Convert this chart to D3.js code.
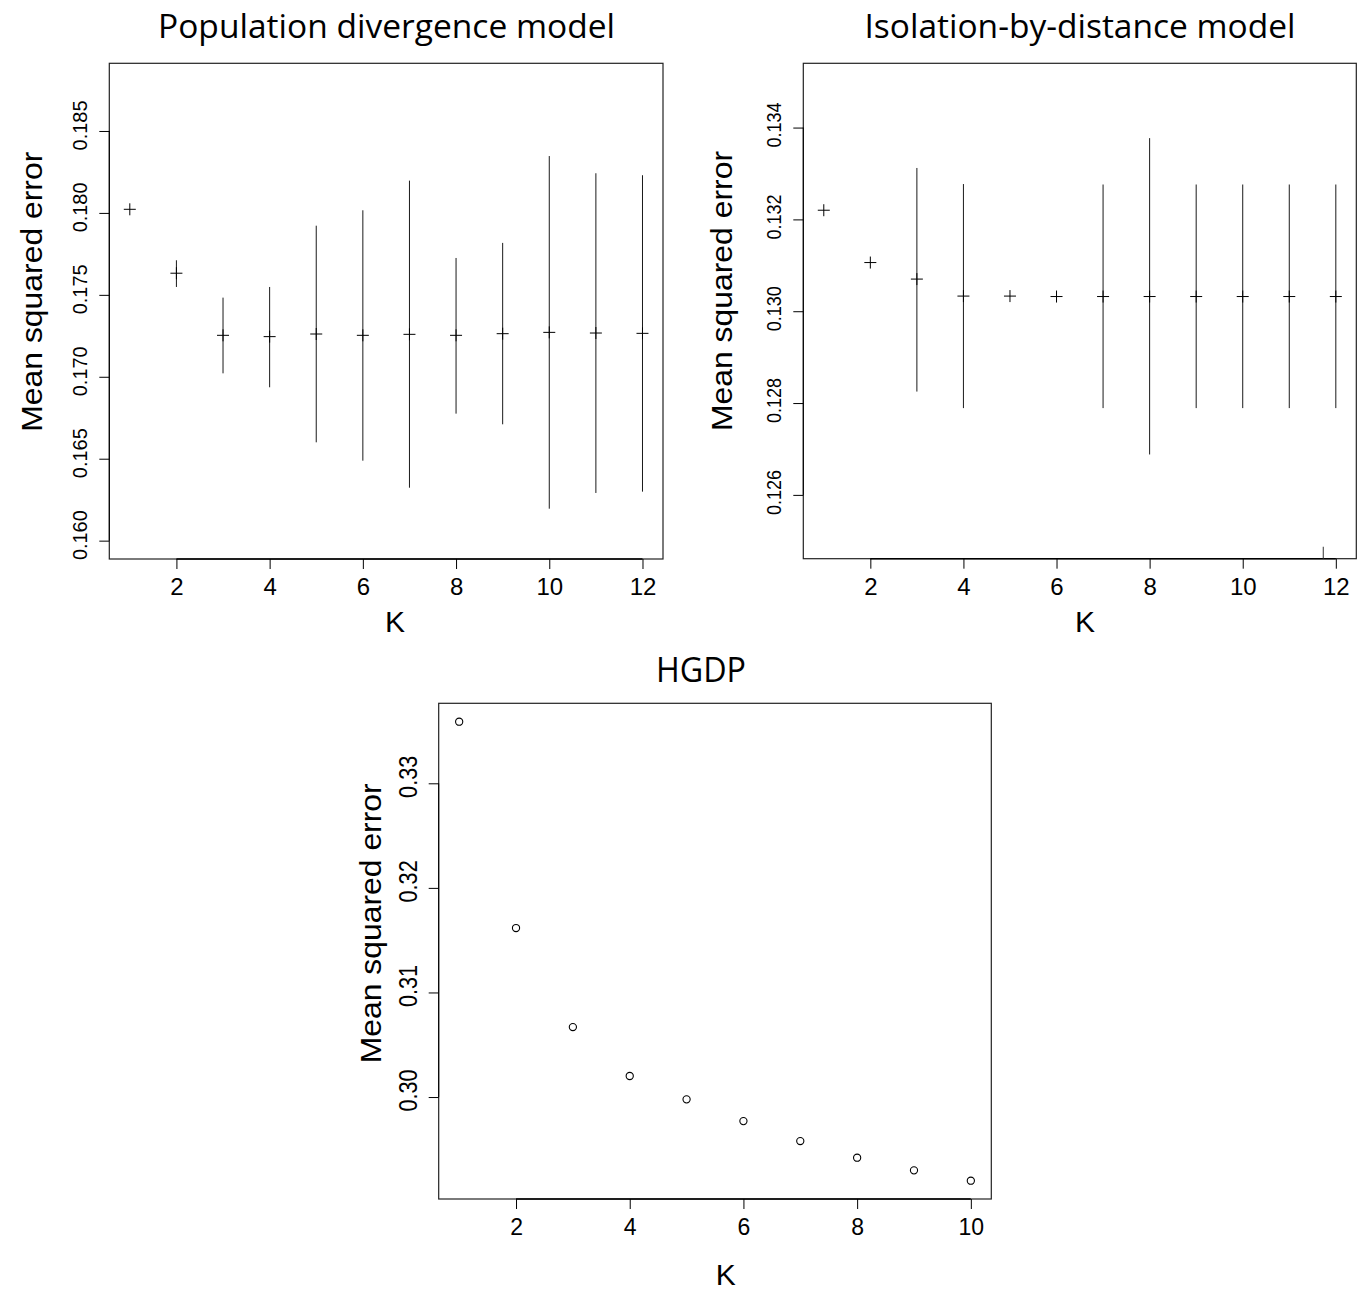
<!DOCTYPE html>
<html>
<head>
<meta charset="utf-8">
<script src="https://cdn.jsdelivr.net/npm/d3@7"></script>
<style>
  html, body { margin: 0; padding: 0; background: #fff; }
  svg { display: block; }
</style>
</head>
<body>
<svg id="chart" width="1368" height="1291"></svg>
<script>
// ---------------- DATA ----------------
const kTop = [1, 2, 3, 4, 5, 6, 7, 8, 9, 10, 11, 12];

// Population divergence model
const divMean = [0.18022, 0.17632, 0.17253, 0.17245, 0.17261, 0.17253, 0.17259, 0.17253, 0.17263, 0.17271, 0.17267, 0.17265];
const divHi   = [null, 0.17711, 0.17483, 0.17548, 0.17922, 0.18016, 0.18197, 0.17725, 0.17817, 0.18347, 0.18242, 0.18230];
const divLo   = [null, 0.17548, 0.17021, 0.16936, 0.16600, 0.16488, 0.16323, 0.16775, 0.16710, 0.16195, 0.16291, 0.16299];
const divYTicks = [0.160, 0.165, 0.170, 0.175, 0.180, 0.185];
const divYLabels = ["0.160", "0.165", "0.170", "0.175", "0.180", "0.185"];
const divYDomain = [0.15888, 0.18913];

// Isolation-by-distance model
const ibdMean = [0.13220, 0.13106, 0.13070, 0.13033, 0.13033, 0.13032, 0.13032, 0.13032, 0.13032, 0.13032, 0.13032, 0.13032];
const ibdHi   = [null, null, 0.13312, 0.13277, null, null, 0.13276, 0.13377, 0.13276, 0.13276, 0.13276, 0.13276];
const ibdLo   = [null, null, 0.12825, 0.12789, null, null, 0.12789, 0.12688, 0.12789, 0.12789, 0.12789, 0.12789];
const ibdStrayK = [11.73];
const ibdStrayLo = [0.12461];
const ibdStrayHi = [0.12487];
const ibdYTicks = [0.126, 0.128, 0.130, 0.132, 0.134];
const ibdYLabels = ["0.126", "0.128", "0.130", "0.132", "0.134"];
const ibdYDomain = [0.12461, 0.13540];

const topXTicks = [2, 4, 6, 8, 10, 12];

// HGDP
const hgdpK = [1, 2, 3, 4, 5, 6, 7, 8, 9, 10];
const hgdpMse = [0.33589, 0.31616, 0.30669, 0.30201, 0.29978, 0.29770, 0.29579, 0.29420, 0.29299, 0.29200];
const hgdpYTicks = [0.30, 0.31, 0.32, 0.33];
const hgdpYLabels = ["0.30", "0.31", "0.32", "0.33"];
const hgdpYDomain = [0.29025, 0.33765];
const hgdpXTicks = [2, 4, 6, 8, 10];

const titles = ["Population divergence model", "Isolation-by-distance model", "HGDP"];
const yTitle = "Mean squared error";
const xTitle = "K";

// ---------------- LAYOUT ----------------
const svg = d3.select("#chart");
const TICK_FONT = "'Liberation Sans', Arial, Helvetica, sans-serif";
const TITLE_FONT = "'Open Sans', 'Noto Sans', sans-serif";

const panels = [
  {
    box: {l: 109.3, r: 663, t: 63.3, b: 559},
    xDomain: [0.56, 12.44], yDomain: divYDomain,
    xTicks: topXTicks, yTicks: divYTicks, yLabels: divYLabels,
    yTickFont: 21, yTickScale: 0.95, yTickShift: -6, xTickFont: 24,
    title: titles[0], titleX: 386.5, titleY: 38.3, titleLen: 457, titleSize: 32,
    yTitleX: 41.7, yTitleY: 291.7, xTitleX: 395, xTitleY: 631.7
  },
  {
    box: {l: 803.3, r: 1356.3, t: 63.3, b: 558.7},
    xDomain: [0.56, 12.44], yDomain: ibdYDomain,
    xTicks: topXTicks, yTicks: ibdYTicks, yLabels: ibdYLabels,
    yTickFont: 20, yTickScale: 0.9, yTickShift: -3, xTickFont: 24,
    title: titles[1], titleX: 1080, titleY: 38.3, titleLen: 431, titleSize: 32,
    yTitleX: 731.7, yTitleY: 291, xTitleX: 1085, xTitleY: 631.7
  },
  {
    box: {l: 438.7, r: 991.3, t: 703.3, b: 1199},
    xDomain: [0.64, 10.36], yDomain: hgdpYDomain,
    xTicks: hgdpXTicks, yTicks: hgdpYTicks, yLabels: hgdpYLabels,
    yTickFont: 25.5, yTickScale: 0.85, yTickShift: -7, xTickFont: 23,
    title: titles[2], titleX: 701, titleY: 681.7, titleLen: 90, titleSize: 34,
    yTitleX: 381, yTitleY: 923.3, xTitleX: 725.8, xTitleY: 1285
  }
];

function drawFrame(p) {
  const x = d3.scaleLinear().domain(p.xDomain).range([p.box.l, p.box.r]);
  const y = d3.scaleLinear().domain(p.yDomain).range([p.box.b, p.box.t]);
  const g = svg.append("g");

  // box
  g.append("rect")
    .attr("x", p.box.l).attr("y", p.box.t)
    .attr("width", p.box.r - p.box.l).attr("height", p.box.b - p.box.t)
    .attr("fill", "none").attr("stroke", "#222").attr("stroke-width", 1.2);

  // x axis (R-style: line from first to last tick)
  const xAxis = d3.axisBottom(x).tickValues(p.xTicks).tickSize(10).tickFormat(d3.format("d"));
  const gx = g.append("g").attr("transform", `translate(0,${p.box.b})`).call(xAxis);
  gx.select(".domain").remove();
  gx.append("line")
    .attr("x1", x(p.xTicks[0])).attr("x2", x(p.xTicks[p.xTicks.length - 1]))
    .attr("stroke", "#000").attr("stroke-width", 1.4);
  gx.selectAll(".tick line").attr("stroke", "#000").attr("stroke-width", 1);
  gx.selectAll(".tick text")
    .attr("y", 36).attr("dy", null)
    .attr("font-family", TICK_FONT).attr("font-size", p.xTickFont).attr("fill", "#000");

  // y axis
  const yAxis = d3.axisLeft(y).tickValues(p.yTicks).tickSize(10).tickFormat((d, i) => p.yLabels[i]);
  const gy = g.append("g").attr("transform", `translate(${p.box.l},0)`).call(yAxis);
  gy.select(".domain").remove();
  gy.append("line")
    .attr("y1", y(p.yTicks[0])).attr("y2", y(p.yTicks[p.yTicks.length - 1]))
    .attr("stroke", "#000").attr("stroke-width", 1);
  gy.selectAll(".tick line").attr("stroke", "#000").attr("stroke-width", 1);
  gy.selectAll(".tick text")
    .attr("x", null).attr("dy", null)
    .attr("text-anchor", "middle")
    .attr("transform", `translate(-22,${p.yTickShift}) rotate(-90) scale(${p.yTickScale},1)`)
    .attr("font-family", TICK_FONT).attr("font-size", p.yTickFont).attr("fill", "#000");
  svg.selectAll(".tick text").attr("font-family", TICK_FONT);

  // titles
  g.append("text")
    .attr("x", p.titleX).attr("y", p.titleY)
    .attr("text-anchor", "middle")
    .attr("font-family", TITLE_FONT).attr("font-size", p.titleSize)
    .attr("textLength", p.titleLen).attr("lengthAdjust", "spacingAndGlyphs")
    .attr("fill", "#000")
    .text(p.title);

  g.append("text")
    .attr("transform", `translate(${p.yTitleX},${p.yTitleY}) rotate(-90)`)
    .attr("text-anchor", "middle")
    .attr("font-family", TICK_FONT).attr("font-size", 30)
    .attr("textLength", 280).attr("lengthAdjust", "spacingAndGlyphs")
    .attr("fill", "#000")
    .text(yTitle);

  g.append("text")
    .attr("x", p.xTitleX).attr("y", p.xTitleY)
    .attr("text-anchor", "middle")
    .attr("font-family", TICK_FONT).attr("font-size", 30)
    .attr("fill", "#000")
    .text(xTitle);

  return {g, x, y};
}

function drawCrossBars(frame, ks, mean, lo, hi) {
  const {g, x, y} = frame;
  const rows = ks.map((k, i) => ({k, m: mean[i], lo: lo[i], hi: hi[i]}));
  g.append("g").selectAll("line.bar")
    .data(rows.filter(d => d.lo != null && d.hi != null))
    .join("line").attr("class", "bar")
    .attr("x1", d => x(d.k)).attr("x2", d => x(d.k))
    .attr("y1", d => y(d.lo)).attr("y2", d => y(d.hi))
    .attr("stroke", "#1a1a1a").attr("stroke-width", 1);
  const crosses = g.append("g").selectAll("path.cross")
    .data(rows).join("path").attr("class", "cross")
    .attr("d", d => {
      const cx = x(d.k), cy = y(d.m), s = 6;
      return `M${cx - s},${cy}H${cx + s}M${cx},${cy - s}V${cy + s}`;
    })
    .attr("fill", "none").attr("stroke", "#000").attr("stroke-width", 1);
}

// Panel 1
const f1 = drawFrame(panels[0]);
drawCrossBars(f1, kTop, divMean, divLo, divHi);

// Panel 2
const f2 = drawFrame(panels[1]);
drawCrossBars(f2, kTop, ibdMean, ibdLo, ibdHi);
f2.g.append("g").selectAll("line")
  .data(ibdStrayK.map((k, i) => ({k, lo: ibdStrayLo[i], hi: ibdStrayHi[i]})))
  .join("line")
  .attr("x1", d => f2.x(d.k)).attr("x2", d => f2.x(d.k))
  .attr("y1", d => f2.y(d.lo)).attr("y2", d => f2.y(d.hi))
  .attr("stroke", "#333").attr("stroke-width", 1);

// Panel 3
const f3 = drawFrame(panels[2]);
f3.g.append("g").selectAll("circle")
  .data(hgdpK.map((k, i) => ({k, v: hgdpMse[i]})))
  .join("circle")
  .attr("cx", d => f3.x(d.k)).attr("cy", d => f3.y(d.v))
  .attr("r", 3.6)
  .attr("fill", "none").attr("stroke", "#000").attr("stroke-width", 1.1);
</script>
</body>
</html>
